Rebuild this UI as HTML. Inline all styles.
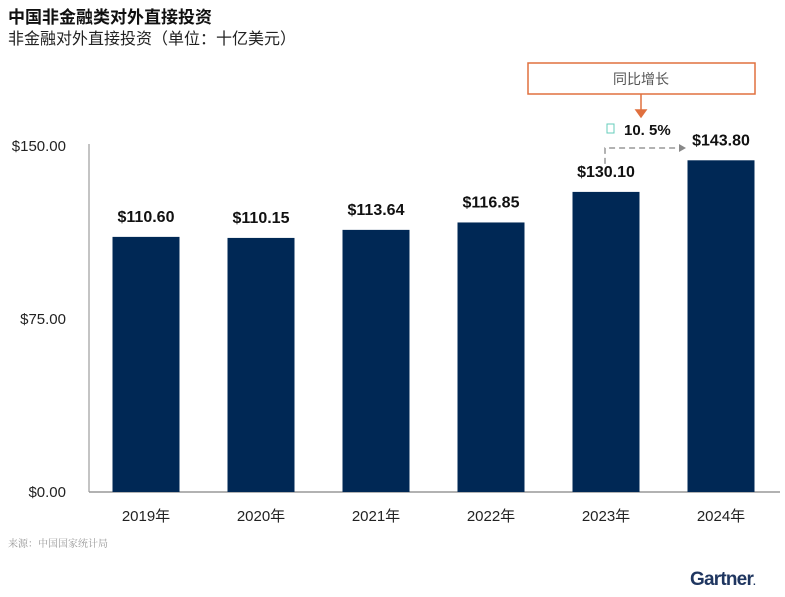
<!DOCTYPE html>
<html><head><meta charset="utf-8"><style>
body{margin:0;width:785px;height:597px;background:#fff;overflow:hidden;font-family:"Liberation Sans","Noto Sans CJK SC",sans-serif;}
</style></head><body>
<div style="position:absolute;left:8px;top:3px;font-size:17px;font-weight:bold;color:#111;font-family:'Noto Sans CJK SC',sans-serif;">中国非金融类对外直接投资</div>
<div style="position:absolute;left:8px;top:25px;font-size:16px;color:#222;font-family:'Noto Sans CJK SC',sans-serif;">非金融对外直接投资（单位：十亿美元）</div>
<svg id="c" width="785" height="597" style="position:absolute;left:0;top:0"></svg>
<div style="position:absolute;left:8px;top:535px;font-size:10px;color:#999;font-family:'Noto Serif CJK SC',serif;">来源：中国国家统计局</div>
<div style="position:absolute;left:690px;top:569px;font-size:19px;font-weight:bold;color:#1f3660;letter-spacing:-0.8px;">Gartner<span style="font-size:10px">.</span></div>
<script>
const categories=["2019年","2020年","2021年","2022年","2023年","2024年"];
const values=[110.60,110.15,113.64,116.85,130.10,143.80];
const valueLabels=["$110.60","$110.15","$113.64","$116.85","$130.10","$143.80"];
const ticks=[0,75,150];
const tickLabels=["$0.00","$75.00","$150.00"];
const growthLabel="10. 5%";
const NS="http://www.w3.org/2000/svg";
const svg=document.getElementById('c');
const y0=492,ppu=346/150;
const y=v=>y0-v*ppu;
const x=i=>146+i*115;
function mk(t,a,txt){const e=document.createElementNS(NS,t);for(const k in a)e.setAttribute(k,a[k]);if(txt!=null)e.textContent=txt;svg.appendChild(e);return e;}
let ax=mk('line',{x1:89,y1:144,x2:89,y2:492,stroke:'#888','stroke-width':1});


let bl=mk('line',{x1:89,y1:492,x2:780,y2:492,stroke:'#999','stroke-width':1.5});


ticks.forEach((t,i)=>{
 const e=mk('text',{x:66,y:y(t)+5,'text-anchor':'end','font-size':15,fill:'#222'},tickLabels[i]);
 
 
});
values.forEach((v,i)=>{
 const r=mk('rect',{x:x(i)-33.5,y:y(v),width:67,height:y0-y(v),fill:'#002855'});
 
 
 const l=mk('text',{x:x(i),y:y(v)-15,'text-anchor':'middle','font-size':16,'font-weight':'bold',fill:'#111'},valueLabels[i]);
 
 
 const c=mk('text',{x:x(i),y:521,'text-anchor':'middle','font-size':15,fill:'#222'},categories[i]);
 
 
});
const n=values.length-1;
let bx=mk('rect',{x:528,y:63,width:227,height:31,fill:'#fff',stroke:'#e0703f','stroke-width':1.5});


let bt=mk('text',{x:641,y:84,'text-anchor':'middle','font-size':14,fill:'#555','font-family':'Noto Sans CJK SC, sans-serif'},'同比增长');


let ar=mk('path',{d:'M641 94 L641 112 M636 110 L641 117 L646 110 Z',stroke:'#e0703f',fill:'#e0703f','stroke-width':1.5});


let sq=mk('rect',{x:607,y:124,width:7,height:9,fill:'none',stroke:'#6cb','stroke-width':1});


let gl=mk('text',{x:624,y:135,'font-size':15,'font-weight':'bold',fill:'#111'},growthLabel);


let dl=mk('path',{d:`M605 ${y(values[n-1])-28} L605 148 L680 148`,stroke:'#999','stroke-width':1.5,fill:'none','stroke-dasharray':'6,4'});


let ah=mk('path',{d:'M679 144 L686 148 L679 152 Z',fill:'#888'});


</script>
</body></html>
